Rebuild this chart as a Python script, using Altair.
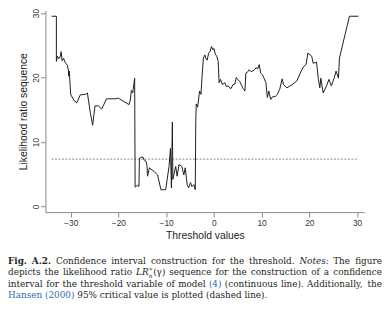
import altair as alt
import pandas as pd

# ---- data ----
threshold = [-34.0, -33.0, -33.0, -32.8, -32.5, -32.2, -32.0, -31.8, -31.5, -31.2,
             -31.0, -30.7, -30.5, -30.4, -30.3, -30.0, -29.3, -28.7, -28.0, -26.9,
             -26.5, -25.9, -25.4, -24.9, -24.2, -23.5, -22.5, -20.7, -20.0, -17.8,
             -17.5, -17.3, -17.0, -16.6, -16.5, -16.0, -15.7, -15.6, -14.9, -14.6,
             -14.2, -14.0, -13.9, -13.5, -12.5, -11.8, -11.1, -10.1, -9.4, -9.1,
             -8.9, -8.7, -8.6, -8.0, -7.7, -7.3, -6.7, -6.3, -6.0, -5.6,
             -5.3, -4.9, -4.6, -4.2, -3.9, -3.8, -3.7, -3.4, -3.0, -2.7,
             -2.5, -2.2, -1.9, -1.6, -1.4, -1.1, -0.8, -0.5, -0.2, 0.0,
             0.3, 0.6, 0.9, 1.1, 1.4, 1.8, 2.3, 2.6, 3.0, 3.3,
             3.6, 4.0, 4.4, 4.7, 5.0, 5.4, 5.8, 6.1, 6.5, 6.7,
             7.0, 7.4, 7.8, 8.1, 8.5, 8.8, 9.2, 9.5, 9.8, 10.2,
             10.5, 10.9, 11.2, 11.5, 11.9, 12.4, 12.8, 13.3, 13.8, 14.3,
             14.6, 15.3, 16.4, 17.4, 18.1, 18.8, 19.3, 19.7, 20.5, 20.8,
             21.5, 21.9, 22.2, 22.4, 22.9, 23.6, 24.1, 24.6, 25.2, 25.6,
             26.1, 26.3, 28.4, 30.3]
lr_seq = [29.5, 29.5, 22.5, 23.3, 22.9, 23.2, 24.0, 22.6, 23.0, 22.4,
          22.2, 21.9, 21.2, 20.2, 21.0, 17.4, 16.4, 16.1, 17.3, 17.4,
          17.6, 14.6, 12.6, 15.6, 15.6, 15.1, 16.7, 16.7, 16.8, 15.8,
          16.5, 18.0, 17.6, 19.9, 3.0, 3.3, 3.1, 7.5, 7.7, 7.2,
          7.0, 6.2, 4.7, 6.0, 5.4, 4.9, 2.6, 2.6, 6.2, 9.0,
          2.9, 13.1, 4.2, 6.2, 4.7, 6.5, 6.2, 4.9, 6.0, 3.4,
          2.9, 3.7, 3.1, 3.4, 2.6, 12.8, 15.9, 15.4, 17.9, 17.4,
          19.9, 23.0, 23.5, 22.8, 22.7, 23.8, 24.0, 24.8, 24.3, 24.5,
          23.6, 23.3, 22.5, 19.2, 19.7, 18.9, 19.2, 18.6, 18.7, 18.4,
          18.3, 18.9, 19.0, 20.0, 19.7, 19.4, 18.8, 18.3, 17.9, 20.7,
          20.8, 21.2, 20.9, 21.0, 21.2, 21.5, 21.4, 22.0, 20.7, 20.4,
          19.9, 19.2, 16.9, 17.9, 16.6, 17.1, 17.0, 17.4, 18.2, 19.8,
          18.9, 18.4, 18.9, 19.5, 20.7, 21.7, 22.0, 23.8, 23.3, 22.2,
          22.4, 19.7, 18.4, 19.9, 17.6, 18.7, 19.7, 18.7, 19.9, 21.0,
          19.9, 23.0, 29.5, 29.5]
critical_value = 7.35
x_ticks = [-30, -20, -10, 0, 10, 20, 30]
y_ticks = [0, 5, 10, 15, 20, 25, 30]

x_title = "Threshold values"
y_title = "Likelihood ratio sequence"

# caption runs per line: (text, style, glued to previous word)
caption_lines = [
    [("Fig. A.2.", "bold", False),
     ("Confidence interval construction for the threshold.", "plain", False),
     ("Notes:", "italic", False), ("The figure", "plain", False)],
    [("depicts the likelihood ratio", "plain", False), ("LR", "italic", False),
     ("\u2217", "sup", True), ("n", "sub", True), ("(\u03b3)", "plain", True),
     ("sequence for the construction of a confidence", "plain", False)],
    [("interval for the threshold variable of model", "plain", False), ("(4)", "link", False),
     ("(continuous line). Additionally, the", "plain", False)],
    [("Hansen (2000)", "link", False), ("95% critical value is plotted (dashed line).", "plain", False)],
]
justified = [True, True, True, False]

# ---- chart ----
df = pd.DataFrame({"threshold": threshold, "lr": lr_seq, "idx": list(range(len(threshold)))})
crit_df = pd.DataFrame({"x0": [min(threshold)], "x1": [max(threshold)], "crit": [critical_value]})

xscale = alt.Scale(domain=[-35.30, 31.51], nice=False, zero=False)
yscale = alt.Scale(domain=[-0.87, 30.41], nice=False, zero=False)

axis_common = dict(
    domainColor="#8a8a8a", tickColor="#8a8a8a", tickSize=5, grid=False,
    labelFont="Liberation Sans", labelFontSize=8.5, labelColor="#333333",
    titleFont="Liberation Sans", titleFontSize=10.5, titleFontWeight="normal",
    titleColor="#222222",
)

line = alt.Chart(df).mark_line(color="#1c1c1c", strokeWidth=1).encode(
    x=alt.X("threshold:Q", scale=xscale,
            axis=alt.Axis(values=x_ticks, title=x_title, labelPadding=1.5,
                          titlePadding=4, **axis_common)),
    y=alt.Y("lr:Q", scale=yscale,
            axis=alt.Axis(values=y_ticks, title=y_title, labelAngle=270,
                          labelAlign="center", labelBaseline="alphabetic",
                          labelPadding=1.5, titlePadding=4, **axis_common)),
    order="idx:Q",
)

rule = alt.Chart(crit_df).mark_rule(color="#7a7a7a", strokeDash=[2, 1.5], strokeWidth=0.9).encode(
    x="x0:Q", x2="x1:Q", y="crit:Q"
)

# ---- caption layout (plot-area pixel coordinates), justified text ----
LEFT_X = -38.0
RIGHT_X = 341.9
BASELINES = [257.5, 269.2, 280.9, 292.6]
styles = {
    "plain": dict(fontWeight="normal", fontStyle="normal", color="#231f20", fontSize=9, dy=0),
    "bold": dict(fontWeight="bold", fontStyle="normal", color="#231f20", fontSize=9, dy=0),
    "italic": dict(fontWeight="normal", fontStyle="italic", color="#231f20", fontSize=9, dy=0),
    "link": dict(fontWeight="normal", fontStyle="normal", color="#2f6db5", fontSize=9, dy=0),
    "sup": dict(fontWeight="normal", fontStyle="normal", color="#231f20", fontSize=6, dy=-4.5),
    "sub": dict(fontWeight="normal", fontStyle="italic", color="#231f20", fontSize=6, dy=2.5),
}
CW = {
    "F": .675, "A": .722, "C": .734, "N": .838, "T": .678, "L": .667, "R": .770, "H": .872,
    "a": .596, "b": .640, "c": .561, "d": .640, "e": .592, "f": .371, "g": .640, "h": .644,
    "i": .320, "k": .610, "l": .320, "m": .948, "n": .644, "o": .602, "p": .640, "q": .640,
    "r": .478, "s": .513, "t": .402, "u": .644, "v": .592, "y": .592, ".": .318, ",": .318,
    ":": .337, "(": .390, ")": .390, "%": .950, "\u03b3": .592, "\u2217": .5,
}
for dch in "0123456789":
    CW[dch] = .636
SPACE = .318


def piece_width(txt, sk):
    k = 1.1 if sk == "bold" else 1.0
    return sum(CW.get(c, .6) for c in txt) * styles[sk]["fontSize"] * k


def piece_advance(txt, sk):
    return 0.0 if sk == "sup" else piece_width(txt, sk) + (0.6 if sk == "sub" else 0.0)


one = pd.DataFrame({"k": [0]})
caption_layers = []


def add_text(txt, sk, x, y, align="left"):
    st = styles[sk]
    caption_layers.append(
        alt.Chart(one).mark_text(
            font="DejaVu Serif", fontSize=st["fontSize"], fontWeight=st["fontWeight"],
            fontStyle=st["fontStyle"], color=st["color"], align=align,
            baseline="alphabetic", dy=st["dy"],
        ).encode(x=alt.value(x), y=alt.value(y), text=alt.value(txt))
    )


for li, runs in enumerate(caption_lines):
    words = []
    for text, sk, glue in runs:
        for j, tok in enumerate(text.split(" ")):
            if j == 0 and glue and words:
                words[-1].append((tok, sk))
            else:
                words.append([(tok, sk)])
    widths = [sum(piece_advance(t, s) for t, s in w) for w in words]
    if justified[li] and len(words) > 1:
        gap = (RIGHT_X - LEFT_X - sum(widths)) / (len(words) - 1)
    else:
        gap = SPACE * 9
    cursor = LEFT_X
    for wi, w in enumerate(words):
        if justified[li] and wi == len(words) - 1 and len(w) == 1:
            add_text(w[0][0], w[0][1], RIGHT_X, BASELINES[li], align="right")
            continue
        x = cursor
        for t, s in w:
            add_text(t, s, x, BASELINES[li])
            x += piece_advance(t, s)
        cursor += widths[wi] + gap

chart = alt.layer(rule, line, *caption_layers).properties(
    width=324, height=205,
    autosize=alt.AutoSizeParams(type="none"),
    padding={"left": 38, "top": 0, "right": 18, "bottom": 95},
    background="white",
).configure_view(stroke=None)

chart.save("out.html", embed_options={"renderer": "svg", "actions": False})
